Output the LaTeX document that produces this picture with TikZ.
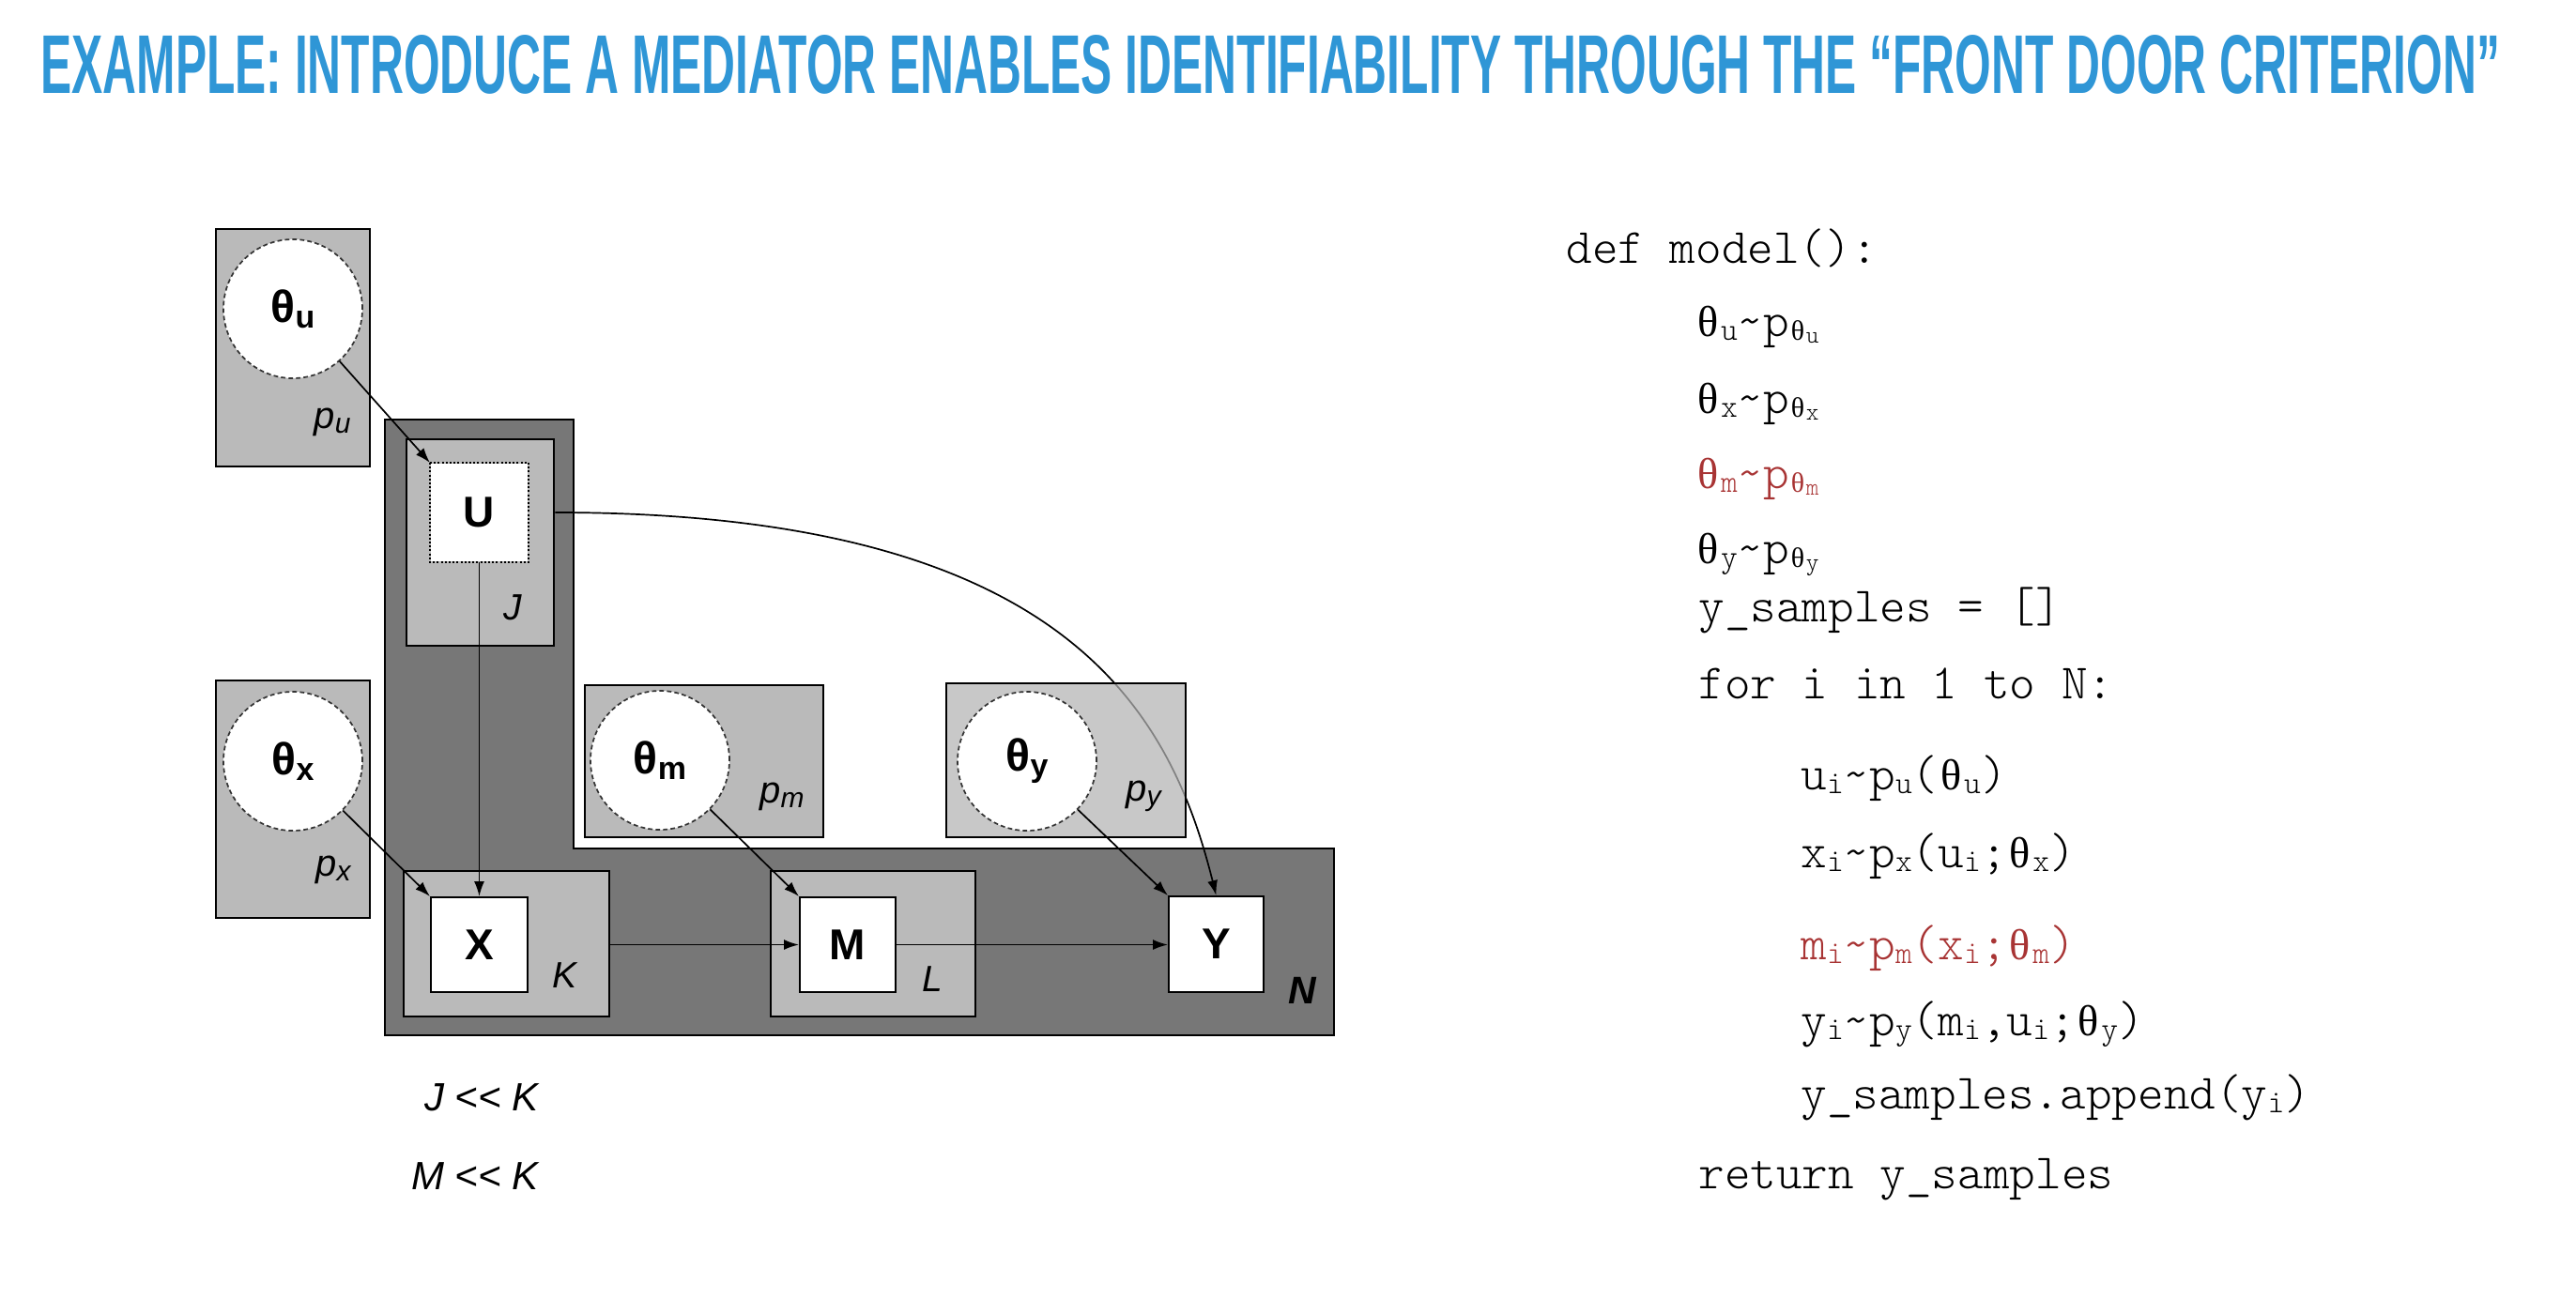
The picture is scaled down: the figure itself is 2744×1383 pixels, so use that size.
\documentclass[tikz,border=0pt]{standalone}
\usepackage{fontspec}
\setmainfont{Liberation Sans}
\setmonofont{Liberation Mono}
\newfontfamily\codefont{lmmonolt10-regular.otf}
\newfontfamily\serifgreek{Liberation Serif}
\usetikzlibrary{arrows.meta,calc}
\definecolor{titleblue}{RGB}{47,150,214}
\definecolor{codered}{RGB}{168,52,52}
\definecolor{darkplate}{RGB}{119,119,119}
\definecolor{lightplate}{RGB}{186,186,186}
\definecolor{paleplate}{RGB}{179,179,179}
% code subscripts
\newcommand{\csub}[1]{\raisebox{-2pt}{\fontsize{17pt}{17pt}\selectfont #1}}
\newcommand{\cssub}[1]{\raisebox{-1.6pt}{\fontsize{13pt}{13pt}\selectfont #1}}
\newcommand{\cth}{\makebox[0.525em]{\serifgreek\fontsize{0.88em}{1em}\selectfont θ}}
\newcommand{\tsub}[1]{\raisebox{-3pt}{\fontsize{17pt}{17pt}\selectfont #1}}
\newcommand{\psub}[1]{\raisebox{-2.5pt}{\fontsize{15pt}{15pt}\selectfont #1}}
\newcommand{\tl}{\textasciitilde}
\tikzset{
  plate/.style={draw=black, line width=1.25pt, inner sep=0pt},
  thetanode/.style={circle, draw=black!80, fill=white, line width=0.85pt,
    dash pattern=on 2.4pt off 1.6pt, minimum size=74pt, inner sep=0pt,
    font=\fontsize{24pt}{24pt}\selectfont\bfseries},
  varbox/.style={rectangle, draw=black, fill=white, line width=1pt, inner sep=0pt,
    font=\fontsize{23pt}{23pt}\selectfont\bfseries},
  arr/.style={-{Latex[length=8pt,width=5.5pt]}, line width=0.85pt},
  plabel/.style={inner sep=0pt, font=\fontsize{20pt}{20pt}\selectfont\itshape},
  platelabel/.style={inner sep=0pt, font=\fontsize{19.5pt}{19.5pt}\selectfont\itshape},
  relabel/.style={anchor=base east, inner sep=0pt, font=\fontsize{21pt}{21pt}\selectfont\itshape},
  code/.style={anchor=base west, inner sep=0pt, font=\fontsize{26.3pt}{26.3pt}\selectfont\codefont},
}
\begin{document}
\begin{tikzpicture}[x=0.5pt,y=-0.5pt]
\useasboundingbox (0,0) rectangle (2744,1383);
% title
\node[anchor=base west, inner sep=0pt, text=titleblue] (title) at (43,99)
  {\resizebox{1309.5pt}{31pt}{\bfseries EXAMPLE: INTRODUCE A MEDIATOR ENABLES IDENTIFIABILITY THROUGH THE “FRONT DOOR CRITERION”}};
% N plate (L-shaped)
\draw[plate, fill=darkplate] (410,447) -- (611,447) -- (611,904) -- (1421,904) -- (1421,1103) -- (410,1103) -- cycle;
% inner plates
\node[plate, fill=lightplate, minimum width=78.5pt, minimum height=110pt] (Jp) at (511.5,578) {};
\node[plate, fill=lightplate, minimum width=109.5pt, minimum height=77.5pt] (Kp) at (539.5,1005.5) {};
\node[plate, fill=lightplate, minimum width=109pt, minimum height=77.5pt] (Lp) at (930,1005.5) {};
% parameter boxes
\node[plate, fill=lightplate, minimum width=82pt, minimum height=126.5pt] (pu) at (312,370.5) {};
\node[plate, fill=lightplate, minimum width=82pt, minimum height=126.5pt] (px) at (312,851.5) {};
\node[plate, fill=lightplate, minimum width=127pt, minimum height=81pt] (pm) at (750,811) {};
% plate labels
\node[plabel] (pulab) at (354,450) {p\psub{u}};
\node[plabel] (pxlab) at (355,927) {p\psub{x}};
\node[plabel] (pmlab) at (833,849) {p\psub{m}};
\node[platelabel] (Jlab) at (546,647) {J};
\node[platelabel] (Klab) at (601,1039) {K};
\node[platelabel] (Llab) at (993,1043) {L};
\node[platelabel, font=\fontsize{20.5pt}{20.5pt}\selectfont\bfseries\itshape] (Nlab) at (1387,1055) {N};
% variable boxes
\node[varbox, draw=none, minimum width=51.5pt, minimum height=52pt] (U) at (510.5,546) {U};
\draw[line width=0.6pt, dash pattern=on 1pt off 1.1pt] (U.north west) rectangle (U.south east);
\node[varbox, minimum width=51.5pt, minimum height=50.5pt] (X) at (510.5,1006.5) {X};
\node[varbox, minimum width=51pt, minimum height=50.5pt] (M) at (903,1006.5) {M};
\node[varbox, minimum width=50.5pt, minimum height=51pt] (Y) at (1295.5,1006) {Y};
% parameter circles
\node[thetanode] (thu) at (312,329) {θ\tsub{u}};
\node[thetanode] (thx) at (312,811) {θ\tsub{x}};
\node[thetanode] (thm) at (703,810) {θ\tsub{m}};
% long curved edge U -> Y (passes beneath the p_y box)
\draw[arr] (Jp.east |- U.east) .. controls +(540,0) and +(-50,-200) .. (Y.north);
% p_y box (semi-transparent over the curve)
\node[plate, fill=paleplate, fill opacity=0.725, minimum width=127.5pt, minimum height=82pt] (py) at (1135.5,810) {};
\node[thetanode] (thy) at (1094,811) {θ\tsub{y}};
\node[plabel] (pylab) at (1218,848) {p\psub{y}};
% edges
\draw[arr] (thu) -- (U.north west);
\draw[arr] (thx) -- (X.north west);
\draw[arr] (thm) -- (M.north west);
\draw[arr] (thy) -- (Y.north west);
\draw[arr] (U.south) -- (X.north);
\draw[arr] (Kp.east |- M.west) -- (M.west);
\draw[arr] (M.east) -- (Y.west |- M.east);
% relations
\node[relabel] (rel1) at (574,1183) {J <{}< K};
\node[relabel] (rel2) at (574,1267) {M <{}< K};
% code
\node[code] (c1) at (1668,280) {def model():};
\node[code] (c2) at (1805,358) {\cth\csub{u}\tl p\csub{\cth\cssub{u}}};
\node[code] (c3) at (1805,440) {\cth\csub{x}\tl p\csub{\cth\cssub{x}}};
\node[code, text=codered] (c4) at (1805,520) {\cth\csub{m}\tl p\csub{\cth\cssub{m}}};
\node[code] (c5) at (1805,600) {\cth\csub{y}\tl p\csub{\cth\cssub{y}}};
\node[code] (c6) at (1809,662) {y\_samples = []};
\node[code] (c7) at (1809,744) {for i in 1 to N:};
\node[code] (c8) at (1918,841) {u\csub{i}\tl p\csub{u}(\cth\csub{u})};
\node[code] (c9) at (1918,924) {x\csub{i}\tl p\csub{x}(u\csub{i};\cth\csub{x})};
\node[code, text=codered] (c10) at (1918,1022) {m\csub{i}\tl p\csub{m}(x\csub{i};\cth\csub{m})};
\node[code] (c11) at (1918,1103) {y\csub{i}\tl p\csub{y}(m\csub{i},u\csub{i};\cth\csub{y})};
\node[code] (c12) at (1918,1181) {y\_samples.append(y\csub{i})};
\node[code] (c13) at (1809,1266) {return y\_samples};
\end{tikzpicture}
\end{document}
